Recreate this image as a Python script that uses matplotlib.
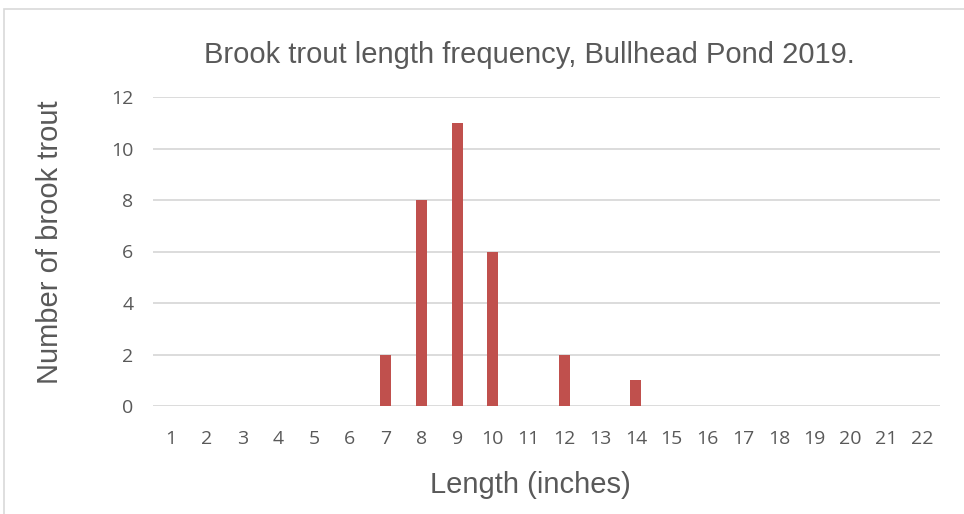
import matplotlib
matplotlib.use("Agg")
import matplotlib.pyplot as plt
from matplotlib.patches import Rectangle

lengths = list(range(1, 23))
counts = [0, 0, 0, 0, 0, 0, 2, 8, 11, 6, 0, 2, 0, 1, 0, 0, 0, 0, 0, 0, 0, 0]
yticks = [0, 2, 4, 6, 8, 10, 12]

title = "Brook trout length frequency, Bullhead Pond 2019."
xlabel = "Length (inches)"
ylabel = "Number of brook trout"

W, H = 964, 514
fig = plt.figure(figsize=(9.64, 5.14), dpi=100)
fig.patches.append(Rectangle((4/W, -0.01), 1.0, 1 - 9/H + 0.01, transform=fig.transFigure,
                             fill=False, edgecolor="#D9D9D9", linewidth=1.2))
ax = fig.add_axes([153/W, 1 - 406/H, (940-153)/W, (406-97)/H])

ax.bar(lengths, counts, width=0.31, color="#C0504D", zorder=3)
ax.set_xlim(0.5, 22.5)
ax.set_ylim(0, 12)
ax.set_yticks(yticks)
ax.set_xticks(lengths)
ax.grid(axis="y", color="#D9D9D9", linewidth=1.3, zorder=0)
for s in ax.spines.values():
    s.set_visible(False)
ax.tick_params(length=0, labelcolor="#595959")
for lab in ax.get_xticklabels() + ax.get_yticklabels():
    lab.set_fontfamily("Open Sans")
    lab.set_fontsize(14)
ax.tick_params(axis="x", pad=17)
ax.tick_params(axis="y", pad=14)

txt = dict(fontfamily="Liberation Sans", fontsize=21, color="#595959")
fig.text(529.5/W, 1 - 55/H, title, ha="center", va="center", **txt)
fig.text(530.5/W, 1 - 485/H, xlabel, ha="center", va="center", **txt)
fig.text(50/W, 1 - 242/H, ylabel, ha="center", va="center", rotation=90, **txt)

fig.savefig("out.png", dpi=100)
